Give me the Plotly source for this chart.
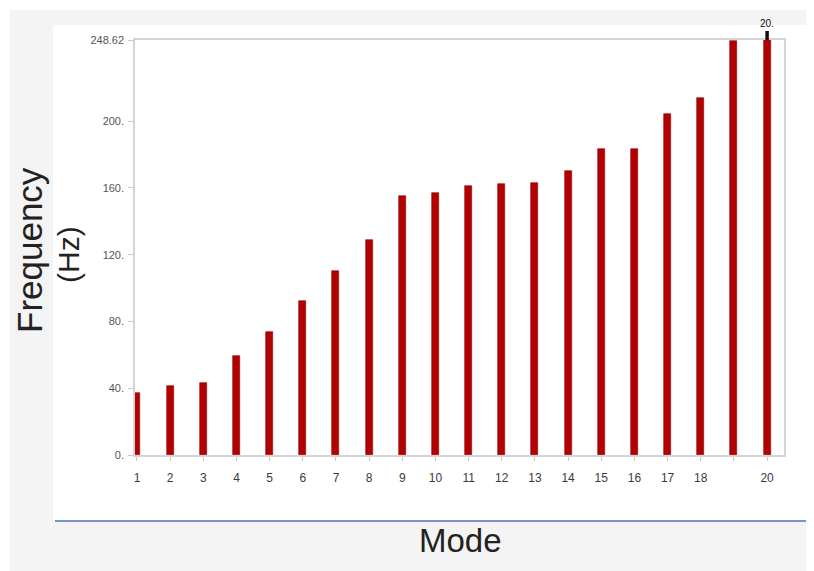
import plotly.graph_objects as go

modes = list(range(1, 21))
freqs = [36.9, 41.3, 42.9, 59.5, 73.8, 92.2, 110.4, 128.7, 155.3, 157.1,
         161.0, 162.1, 163.0, 170.0, 183.2, 183.2, 204.0, 214.0, 248.0, 248.62]
xtick_text = ["1", "2", "3", "4", "5", "6", "7", "8", "9", "10", "11", "12",
              "13", "14", "15", "16", "17", "18", "", "20"]
ytick_vals = [0, 40, 80, 120, 160, 200, 248.62]
ytick_text = ["0.", "40.", "80.", "120.", "160.", "200.", "248.62"]
peak_label = "20."

# page is offset by the browser's 8px body margin
OFF = 8
W, H = 814 - OFF, 571 - OFF
L, R, T, B = 135 - OFF, 814 - 784, 40 - OFF, 571 - 455
pw, ph = W - L - R, H - T - B


def px(x):
    return (x - OFF - L) / pw


def py(y):
    return 1 - (y - OFF - T) / ph


fig = go.Figure()
fig.add_trace(go.Bar(
    x=modes, y=freqs, width=0.21,
    marker=dict(color="#b30000", line=dict(color="#8c0000", width=0.6)),
    cliponaxis=False, showlegend=False,
))

shapes = [
    dict(type="rect", xref="paper", yref="paper", x0=px(10), x1=px(830),
         y0=py(590), y1=py(10), fillcolor="#f4f4f4", line_width=0, layer="below"),
    dict(type="rect", xref="paper", yref="paper", x0=px(53), x1=px(830),
         y0=py(521), y1=py(25), fillcolor="#ffffff", line_width=0, layer="below"),
    dict(type="line", xref="paper", yref="paper", x0=px(55), x1=px(830),
         y0=py(521), y1=py(521), line=dict(color="#7396c4", width=2)),
]

annotations = [
    dict(text="Frequency", xref="paper", yref="paper", x=px(30), y=py(250),
         textangle=-90, showarrow=False, xanchor="center", yanchor="middle",
         font=dict(family="Liberation Sans, Arial", size=35, color="#222")),
    dict(text="(Hz)", xref="paper", yref="paper", x=px(68), y=py(255),
         textangle=-90, showarrow=False, xanchor="center", yanchor="middle",
         font=dict(family="Liberation Sans, Arial", size=30, color="#222")),
    dict(text="Mode", xref="paper", yref="paper", x=px(460), y=py(540),
         showarrow=False, xanchor="center", yanchor="middle",
         font=dict(family="Liberation Sans, Arial", size=33, color="#222")),
    dict(text=peak_label, x=modes[-1], y=freqs[-1], xref="x", yref="y",
         showarrow=True, arrowhead=0, arrowwidth=3.5, arrowcolor="#111",
         ax=0, ay=-9, standoff=0, yshift=0,
         font=dict(family="Liberation Sans, Arial", size=10, color="#111"),
         xanchor="center", yanchor="bottom"),
]

fig.update_layout(
    width=W, height=H,
    margin=dict(l=L, r=R, t=T, b=B),
    paper_bgcolor="#ffffff", plot_bgcolor="#ffffff",
    shapes=shapes, annotations=annotations,
    bargap=0,
    xaxis=dict(
        range=[0.94, 20.51], tickvals=modes, ticktext=xtick_text,
        ticks="outside", ticklen=4, tickcolor="#c8c8c8", tickwidth=1,
        showline=True, linecolor="#d4d4d4", linewidth=1.5, mirror=True,
        showgrid=False, zeroline=False, ticklabelstandoff=7,
        tickfont=dict(family="Liberation Sans, Arial", size=12, color="#3a3a3a"),
    ),
    yaxis=dict(
        range=[0, 248.62], tickvals=ytick_vals, ticktext=ytick_text,
        ticks="outside", ticklen=5, tickcolor="#c8c8c8", tickwidth=1,
        showline=True, linecolor="#d4d4d4", linewidth=1.5, mirror=True,
        showgrid=False, zeroline=False, ticklabelstandoff=2,
        tickfont=dict(family="Liberation Sans, Arial", size=11, color="#555"),
    ),
)

fig.write_html("out.html")
